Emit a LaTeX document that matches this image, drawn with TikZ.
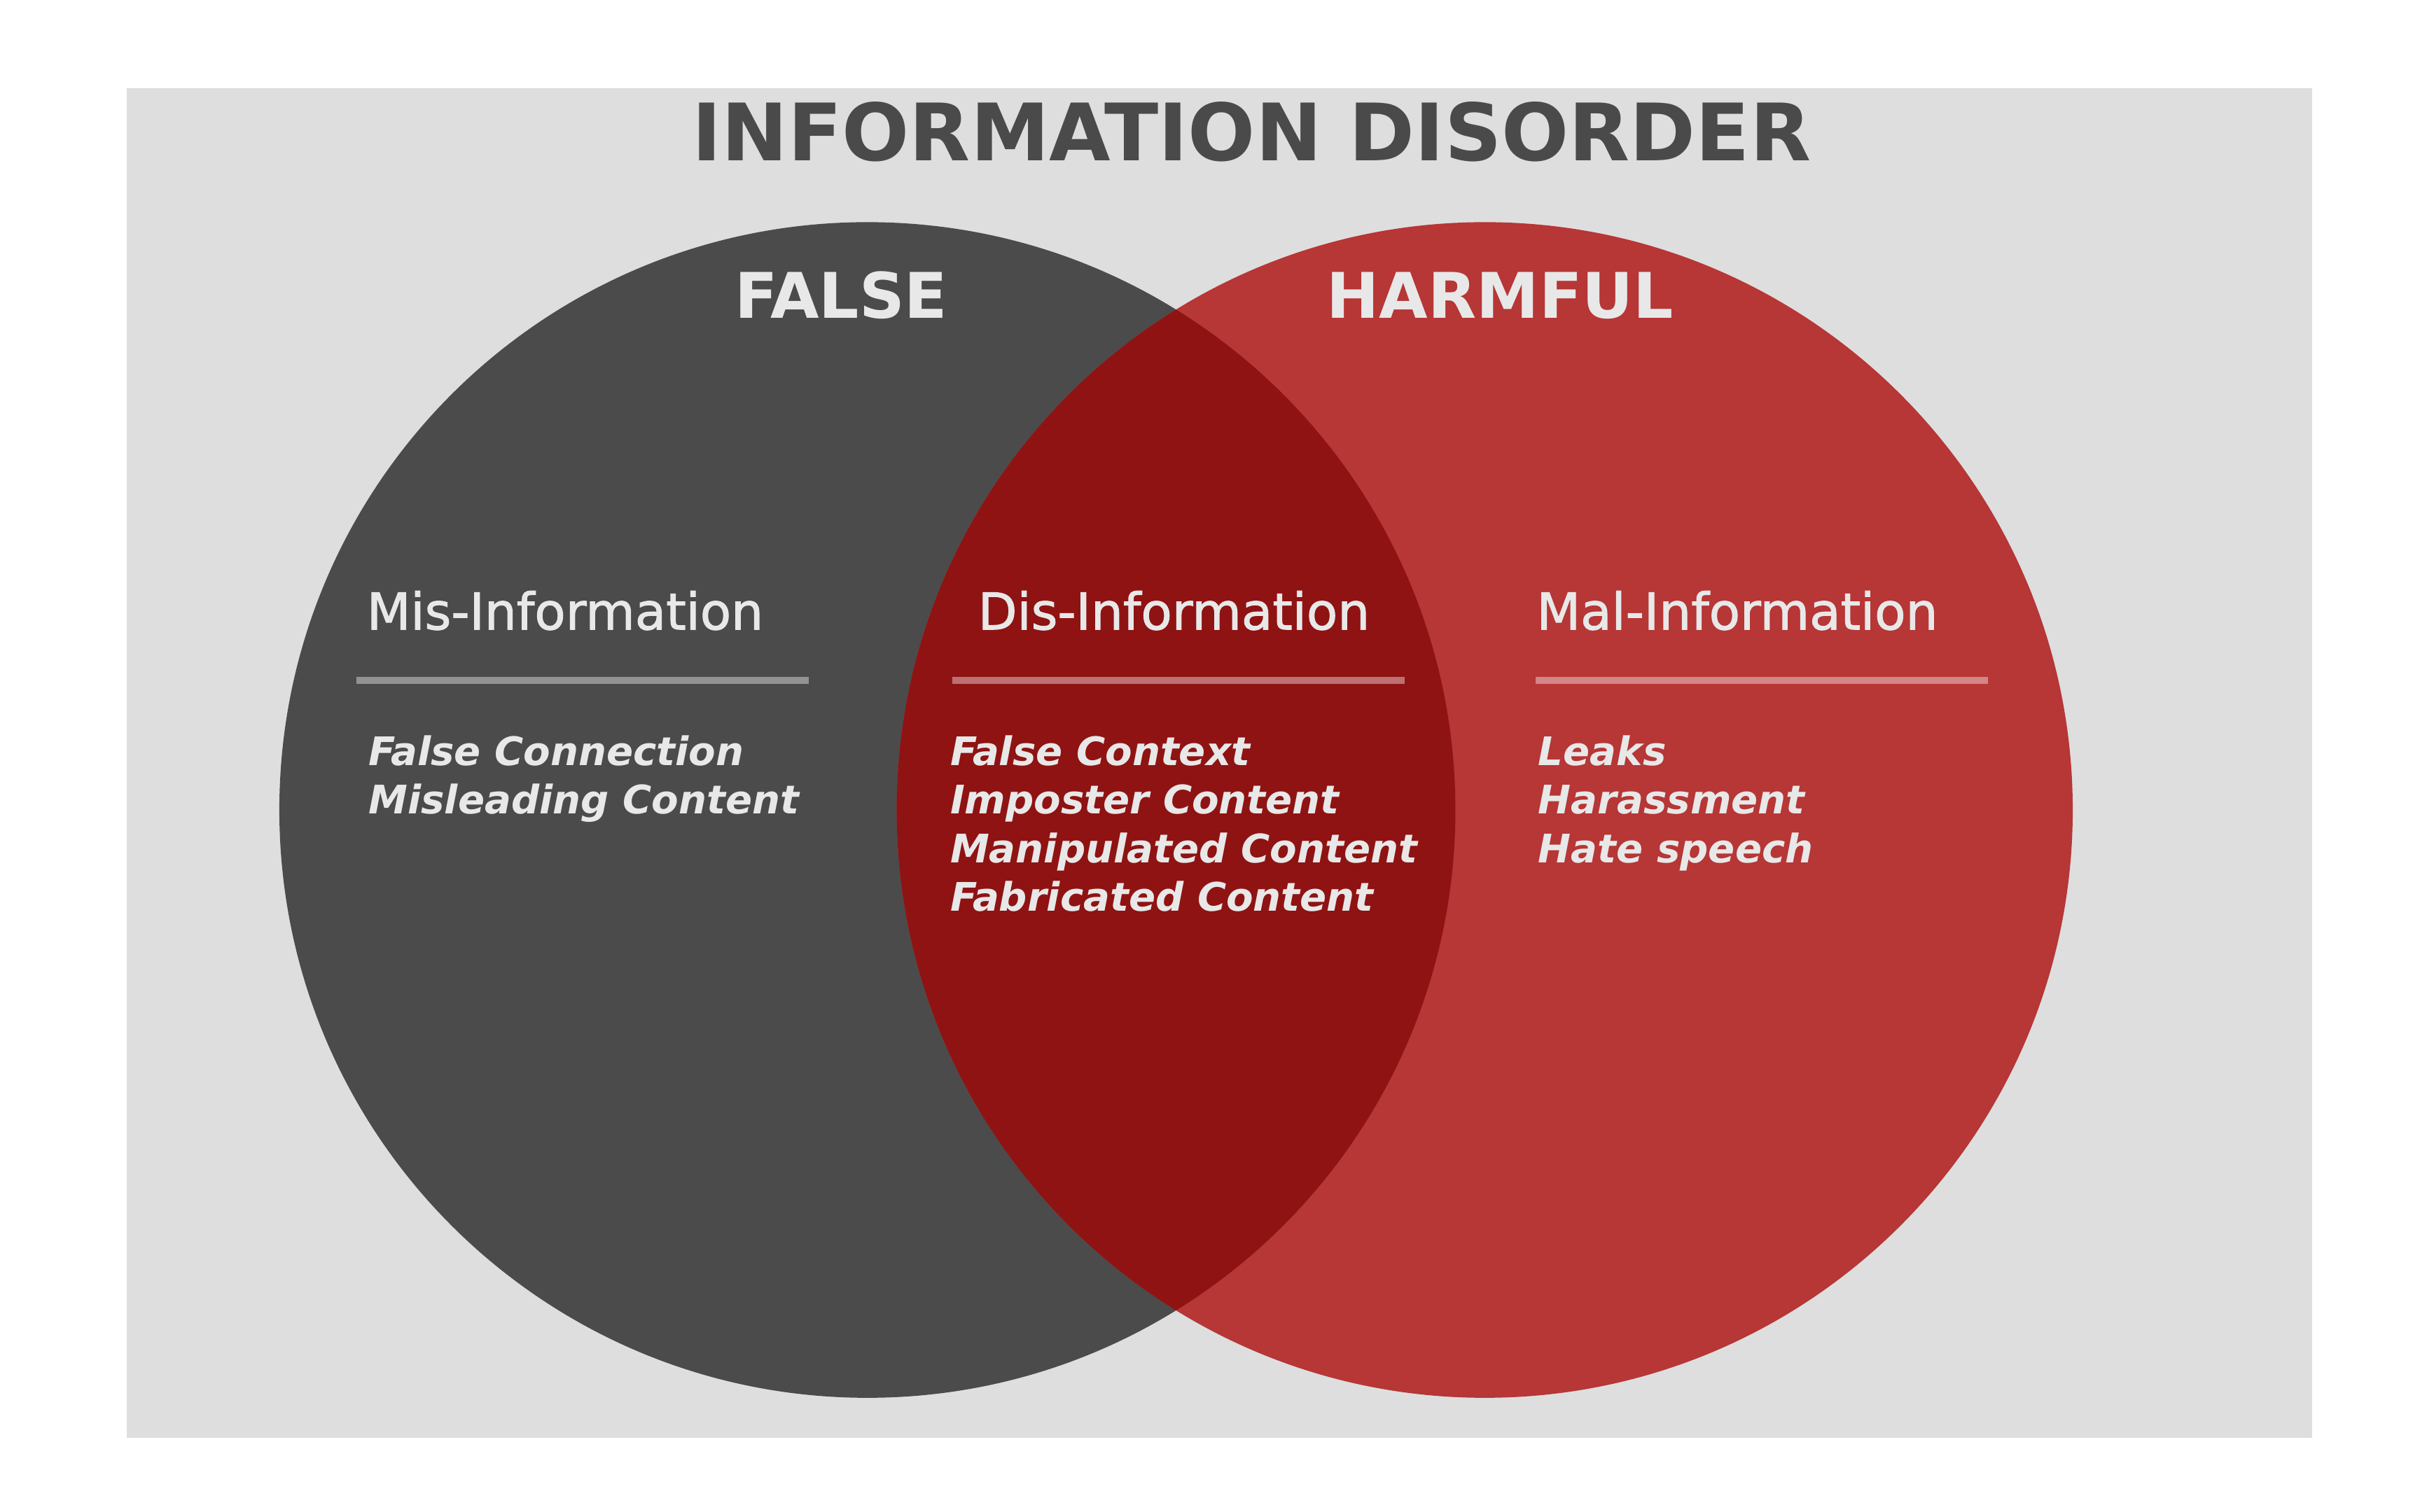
\documentclass[tikz,border=0pt]{standalone}
\usepackage{fontspec}
\setmainfont{DejaVu Sans}
\newfontfamily\semifont[FakeBold=1.5]{DejaVu Sans}
\usepackage{tikz}
\usetikzlibrary{calc,positioning}
\definecolor{bggray}{HTML}{DEDEDE}
\definecolor{falsegray}{HTML}{4B4B4B}
\definecolor{harmred}{HTML}{B73636}
\definecolor{disred}{HTML}{8F1313}
\definecolor{txtwhite}{HTML}{E8E8E8}
\definecolor{titlegray}{HTML}{4A4A4A}
\tikzset{
  heading/.style={anchor=base west, inner sep=0pt, text=txtwhite, font=\semifont\fontsize{9.35}{10}\selectfont},
  itemlist/.style={anchor=base west, inner sep=0pt, text=txtwhite, align=left,
    font=\fontsize{7.25}{8.96}\selectfont\bfseries\itshape},
  setname/.style={anchor=base, inner sep=0pt, text=txtwhite, font=\fontsize{11.6}{12}\selectfont\bfseries},
  rule/.style={line width=1.3pt, white, opacity=0.4}
}

\begin{document}
\begin{tikzpicture}[x=0.01cm, y=-0.01cm]
                \useasboundingbox[fill=white] (0,0) rectangle (1568,980);
                % background panel
                \fill[bggray] (82,57) rectangle (1498,932);
                \node[anchor=base, inner sep=0pt, text=titlegray, font=\fontsize{14.6}{16}\selectfont\bfseries] (title) at (811,104) {INFORMATION DISORDER};
                % the two circles
                \fill[falsegray] (562,525) circle[radius=381];
                \fill[harmred] (962,525) circle[radius=381];
                % overlap
                \begin{scope}
                  \clip (562,525) circle[radius=381];
                  \fill[disred] (962,525) circle[radius=381];
                \end{scope}
                \node[setname] (false) at (545,206) {FALSE};
                \node[setname] (harmful) at (972,206) {HARMFUL};
                % headings
                \node[heading] (mis) at (237,408) {Mis-Information};
                \node[heading] (dis) at (633,408) {Dis-Information};
                \node[heading] (mal) at (995,408) {Mal-Information};
                % rules
                \draw[rule] (231,441) -- (524,441);
                \draw[rule] (617,441) -- (910,441);
                \draw[rule] (995,441) -- (1288,441);
                % lists (placed by their last baseline)
                \node[itemlist] (misitems) at (238,527.5) {False Connection\\Misleading Content};
                \node[itemlist] (disitems) at (615,590.5) {False Context\\Imposter Content\\Manipulated Content\\Fabricated Content};
                \node[itemlist] (malitems) at (996,559) {Leaks\\Harassment\\Hate speech};
              \end{tikzpicture}
\end{document}
